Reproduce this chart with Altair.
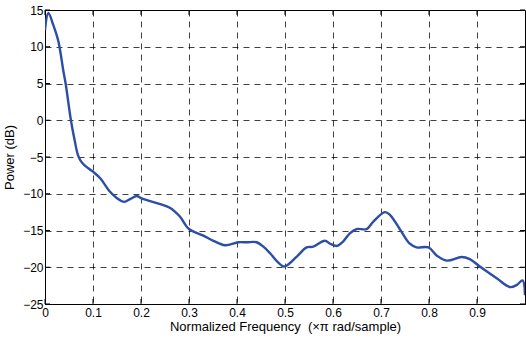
import altair as alt
import pandas as pd

# Power spectral density estimate (dB) over normalized frequency
freq = [0.0, 0.007, 0.017, 0.028, 0.038, 0.043, 0.054, 0.062, 0.068, 0.074, 0.082, 0.1,
        0.115, 0.135, 0.15, 0.165, 0.178, 0.191, 0.2, 0.219, 0.24, 0.26, 0.281,
        0.3, 0.33, 0.351, 0.375, 0.403, 0.42, 0.441, 0.455, 0.469, 0.485, 0.497, 0.503,
        0.524, 0.545, 0.559, 0.583, 0.594, 0.608, 0.621, 0.635, 0.649, 0.67, 0.684,
        0.708, 0.719, 0.74, 0.76, 0.774, 0.799, 0.816, 0.837, 0.868, 0.885, 0.906,
        0.941, 0.969, 0.983, 0.995, 1.0]
power = [12.3, 14.6, 13.0, 10.7, 6.8, 5.0, 0.0, -2.8, -4.6, -5.5, -6.1, -7.0,
         -7.9, -9.7, -10.6, -11.1, -10.7, -10.3, -10.6, -11.0, -11.4, -11.9, -13.1,
         -14.8, -15.7, -16.4, -17.0, -16.6, -16.6, -16.6, -17.2, -18.1, -19.3, -19.9, -19.8,
         -18.6, -17.3, -17.2, -16.4, -16.8, -17.1, -16.5, -15.4, -14.8, -14.8, -13.8,
         -12.5, -12.9, -14.9, -16.8, -17.3, -17.3, -18.4, -19.1, -18.6, -18.9, -19.9,
         -21.5, -22.7, -22.4, -21.8, -23.8]

x_ticks = [0, 0.1, 0.2, 0.3, 0.4, 0.5, 0.6, 0.7, 0.8, 0.9]
y_ticks = [-25, -20, -15, -10, -5, 0, 5, 10, 15]

df = pd.DataFrame({"freq": freq, "power": power})
xt = pd.DataFrame({"t": x_ticks})
yt = pd.DataFrame({"t": y_ticks})

x_scale = alt.Scale(domain=[0, 1], nice=False, zero=False)
y_scale = alt.Scale(domain=[-25, 15], nice=False, zero=False)

NBSP = "\u00a0"
x_title = "Normalized Frequency" + NBSP + NBSP + "(\u00d7\u03c0 rad/sample)"
y_title = "Power (dB)"
x_axis = alt.Axis(values=x_ticks, format="~g", grid=True, gridDash=[6, 5],
                  gridColor="#000000", gridOpacity=0.75, ticks=False,
                  labelPadding=3, titlePadding=2, labelOverlap=False, labelFlush=False,
                  title=x_title)
y_axis = alt.Axis(values=y_ticks, format="~g", grid=True, gridDash=[6, 5],
                  gridColor="#000000", gridOpacity=0.75, ticks=False,
                  labelPadding=2, titlePadding=6, labelOverlap=False, labelFlush=False,
                  title=y_title)

line = alt.Chart(df).mark_line(color="#2d4ea6", strokeWidth=2.4,
                               interpolate="catmull-rom", clip=True).encode(
    x=alt.X("freq:Q", scale=x_scale, axis=x_axis, title=x_title),
    y=alt.Y("power:Q", scale=y_scale, axis=y_axis, title=y_title),
)

# inward tick marks on the box edges
tick_len = 5
bottom_ticks = alt.Chart(xt).mark_rule(color="black", strokeWidth=1).encode(
    x=alt.X("t:Q", scale=x_scale, axis=x_axis, title=x_title),
    y=alt.value(294), y2=alt.value(294 - tick_len))
top_ticks = alt.Chart(xt).mark_rule(color="black", strokeWidth=1).encode(
    x=alt.X("t:Q", scale=x_scale, axis=x_axis, title=x_title),
    y=alt.value(0), y2=alt.value(tick_len))
left_ticks = alt.Chart(yt).mark_rule(color="black", strokeWidth=1).encode(
    y=alt.Y("t:Q", scale=y_scale, axis=y_axis, title=y_title),
    x=alt.value(0), x2=alt.value(tick_len))
right_ticks = alt.Chart(yt).mark_rule(color="black", strokeWidth=1).encode(
    y=alt.Y("t:Q", scale=y_scale, axis=y_axis, title=y_title),
    x=alt.value(480), x2=alt.value(480 - tick_len))

chart = alt.layer(line, bottom_ticks, top_ticks, left_ticks, right_ticks).properties(
    width=480, height=294,
    autosize=alt.AutoSizeParams(type="none"),
    padding={"left": 45, "top": 10, "right": 1, "bottom": 34},
    background="white",
).configure_view(stroke="black", strokeWidth=1).configure_axis(
    domainColor="black", labelColor="black", titleColor="black",
    labelFont="Liberation Sans", titleFont="Liberation Sans",
    labelFontSize=12, titleFontSize=13, titleFontWeight="normal",
)

chart.save("out.html", embed_options={"renderer": "svg", "actions": False})
